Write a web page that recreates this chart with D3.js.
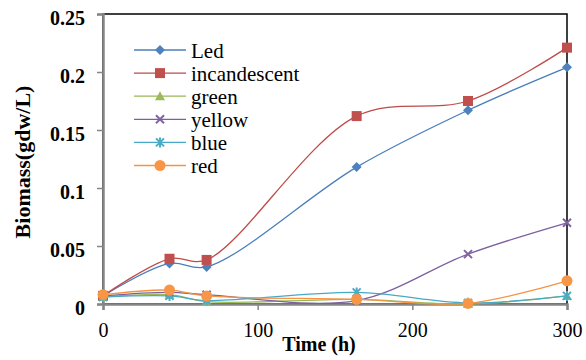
<!DOCTYPE html>
<html>
<head>
<meta charset="utf-8">
<script src="https://cdn.jsdelivr.net/npm/d3@7"></script>
<style>
body { margin: 0; background: #fff; }
svg text { font-family: "Liberation Serif", "Times New Roman", "DejaVu Serif", serif !important; }
</style>
</head>
<body>
<svg width="586" height="360"></svg>
<script>
// sampling times (h)
const times = [0, 43, 67, 164, 236, 300]

const led = [0.007, 0.035, 0.032, 0.118, 0.167, 0.204]
const incandescent = [0.007, 0.039, 0.038, 0.162, 0.175, 0.221]
const green = [0.006, 0.008, 0.002, 0.004, 0.000, 0.007]
const yellow = [0.007, 0.010, 0.008, 0.003, 0.043, 0.070]
const blue = [0.006, 0.007, 0.003, 0.010, 0.001, 0.007]
const red = [0.008, 0.012, 0.007, 0.004, 0.0005, 0.020]

const seriesNames = ['Led', 'incandescent', 'green', 'yellow', 'blue', 'red']
const xTicks = [0, 100, 200, 300]
const yTicks = [0, 0.05, 0.1, 0.15, 0.2, 0.25]

const seriesValues = [led, incandescent, green, yellow, blue, red]
const lineColors = ['#4a7ebb', '#be4b48', '#98b954', '#7d60a0', '#46aac5', '#f69240']
const markColors = ['#4f81bd', '#c0504d', '#9bbb59', '#8064a2', '#4bacc6', '#f79646']
const shapes = ['diamond', 'square', 'triangle', 'x', 'star', 'circle']

const svg = d3.select('svg')
const m = { l: 103, r: 567, t: 14, b: 304 }
const fs = 20

const x = d3.scaleLinear().domain([0, 300]).range([m.l, m.r])
const y = d3.scaleLinear().domain([0, 0.25]).range([m.b, m.t])

// plot frame (top and right are black)
svg.append('rect')
	.attr('x', m.l).attr('y', m.t)
	.attr('width', m.r - m.l).attr('height', m.b - m.t)
	.attr('fill', 'none').attr('stroke', '#000').attr('stroke-width', 1.5)

// axes
const gx = svg.append('g').attr('transform', `translate(0,${m.b})`)
	.call(d3.axisBottom(x).tickValues(xTicks).tickSize(6).tickFormat(d3.format('d')))
const gy = svg.append('g').attr('transform', `translate(${m.l},0)`)
	.call(d3.axisLeft(y).tickValues(yTicks).tickSize(6).tickFormat(d => d === 0 ? '0' : String(d)))

;[gx, gy].forEach(g => {
	g.attr('font-family', null)
	g.select('.domain').attr('stroke', '#868686').attr('stroke-width', 2.5)
	g.selectAll('.tick line').attr('stroke', '#868686').attr('stroke-width', 1.5)
	g.selectAll('text').attr('fill', '#000').attr('font-size', fs)
})
gx.selectAll('text').attr('y', 33).attr('dy', null)
gy.selectAll('text').attr('font-weight', 'bold').attr('x', -18).attr('dy', '0.5em')

// axis titles
svg.append('text')
	.attr('x', 319).attr('y', 351)
	.attr('text-anchor', 'middle')
	.attr('font-weight', 'bold').attr('font-size', fs)
	.text('Time (h)')

svg.append('text')
	.attr('transform', 'translate(30,162) rotate(-90)')
	.attr('text-anchor', 'middle')
	.attr('font-weight', 'bold').attr('font-size', 22)
	.text('Biomass(gdw/L)')

const line = d3.line()
	.x(d => x(d[0]))
	.y(d => y(d[1]))
	.curve(d3.curveCatmullRom.alpha(0.5))

const drawMarker = (g, shape, cx, cy, color) => {
	if (shape === 'diamond') {
		g.append('path').attr('d', `M${cx},${cy - 5}L${cx + 5},${cy}L${cx},${cy + 5}L${cx - 5},${cy}Z`).attr('fill', color)
	} else if (shape === 'square') {
		g.append('rect').attr('x', cx - 5).attr('y', cy - 5).attr('width', 10).attr('height', 10).attr('fill', color)
	} else if (shape === 'triangle') {
		g.append('path').attr('d', `M${cx},${cy - 5}L${cx + 5},${cy + 4}L${cx - 5},${cy + 4}Z`).attr('fill', color)
	} else if (shape === 'x') {
		g.append('path').attr('d', `M${cx - 4},${cy - 4}L${cx + 4},${cy + 4}M${cx - 4},${cy + 4}L${cx + 4},${cy - 4}`)
			.attr('stroke', color).attr('stroke-width', 2)
	} else if (shape === 'star') {
		g.append('path').attr('d', `M${cx - 4},${cy - 4}L${cx + 4},${cy + 4}M${cx - 4},${cy + 4}L${cx + 4},${cy - 4}M${cx},${cy - 5}L${cx},${cy + 5}`)
			.attr('stroke', color).attr('stroke-width', 2)
	} else {
		g.append('circle').attr('cx', cx).attr('cy', cy).attr('r', 5.5).attr('fill', color)
	}
}

seriesValues.forEach((vals, i) => {
	const pts = times.map((t, j) => [t, vals[j]])
	const g = svg.append('g')
	g.append('path')
		.attr('d', line(pts))
		.attr('fill', 'none')
		.attr('stroke', lineColors[i])
		.attr('stroke-width', 1.3)
	pts.forEach(p => drawMarker(g, shapes[i], x(p[0]), y(p[1]), markColors[i]))
})

// legend
const leg = svg.append('g')
seriesNames.forEach((name, i) => {
	const ly = 50 + i * 23.1
	leg.append('line')
		.attr('x1', 134).attr('x2', 186).attr('y1', ly).attr('y2', ly)
		.attr('stroke', lineColors[i]).attr('stroke-width', 1.3)
	drawMarker(leg, shapes[i], 160, ly, markColors[i])
	leg.append('text')
		.attr('x', 191).attr('y', ly + 7.5)
		.attr('font-size', 21)
		.text(name)
})
</script>
</body>
</html>
